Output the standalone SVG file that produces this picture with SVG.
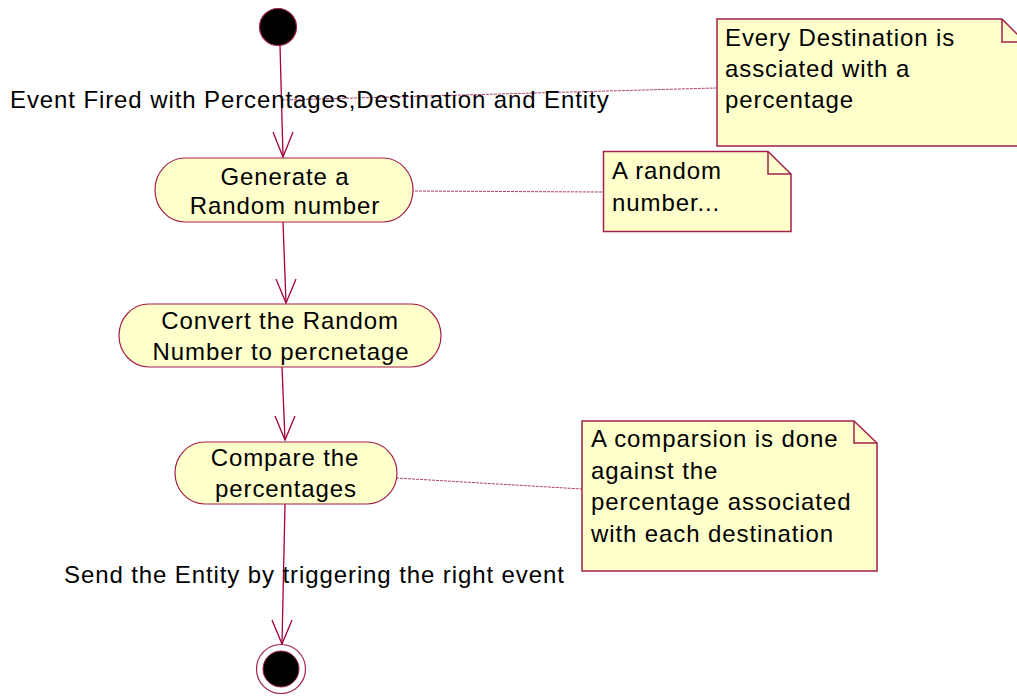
<svg xmlns="http://www.w3.org/2000/svg" width="1017" height="696" viewBox="0 0 1017 696">
<style>
text{font-family:"Liberation Sans",Arial,sans-serif;font-size:24px;letter-spacing:0.9px;fill:#000}
.act{fill:#ffffcc;stroke:#a3204d;stroke-width:1.2}
.note{fill:#ffffcc;stroke:#a3204d;stroke-width:1.5}
.fold{fill:none;stroke:#a3204d;stroke-width:1.5}
.flow{stroke:#a3003a;stroke-width:1.3;fill:none}
.anchor{stroke:#b0406a;stroke-width:1;stroke-dasharray:3 1;fill:none}
.mid{text-anchor:middle}
</style>
<rect width="1017" height="696" fill="#fff"/>
<g id="connectors">
<line class="anchor" x1="282" y1="100" x2="716" y2="88"/>
<line class="anchor" x1="407" y1="191" x2="603" y2="192"/>
<line class="anchor" x1="396" y1="478" x2="582" y2="489"/>
<path class="flow" d="M280,45 L283,157"/>
<path class="flow" d="M283,222 L286,303"/>
<path class="flow" d="M282,367 L285,440"/>
<path class="flow" d="M285,504 L282,644"/>
<path class="flow" d="M273,132 L283,157 L293,132"/>
<path class="flow" d="M276,279 L286,303 L296,279"/>
<path class="flow" d="M275,416 L285,440 L295,416"/>
<path class="flow" d="M272,620 L282,644 L292,620"/>
<text x="10" y="108">Event Fired with Percentages,Destination and Entity</text>
<text x="64" y="583">Send the Entity by triggering the right event</text>
</g>
<g id="start">
<circle cx="278" cy="27" r="18.5" fill="#000" stroke="#a3204d" stroke-width="1.2"/>
</g>
<g id="generate">
<rect class="act" x="155" y="158" width="258" height="64" rx="30" ry="32"/>
<text class="mid" x="285" y="185">Generate a</text>
<text class="mid" x="285" y="214">Random number</text>
</g>
<g id="convert">
<rect class="act" x="119" y="304" width="322" height="63" rx="30" ry="31.5"/>
<text class="mid" x="280" y="329">Convert the Random</text>
<text class="mid" x="281" y="360">Number to percnetage</text>
</g>
<g id="compare">
<rect class="act" x="175" y="442" width="222" height="62" rx="30" ry="31"/>
<text class="mid" x="285" y="466">Compare the</text>
<text class="mid" x="286" y="497">percentages</text>
</g>
<g id="end">
<circle cx="281" cy="669" r="24.5" fill="#fff" stroke="#a3204d" stroke-width="1.2"/>
<circle cx="281" cy="669" r="18" fill="#000" stroke="#a3204d" stroke-width="1"/>
</g>
<g id="note-destination">
<path class="note" d="M717,19 L1002,19 L1025,42 L1025,146 L717,146 Z"/>
<path class="fold" d="M1002,19 L1002,42 L1025,42"/>
<text x="725" y="46">Every Destination is</text>
<text x="725" y="77">assciated with a</text>
<text x="725" y="108">percentage</text>
</g>
<g id="note-random">
<path class="note" d="M603.5,151.5 L768,151.5 L791,174 L791,231.5 L603.5,231.5 Z"/>
<path class="fold" d="M768,151.5 L768,174 L791,174"/>
<text x="612" y="179">A random</text>
<text x="612" y="211">number...</text>
</g>
<g id="note-compare">
<path class="note" d="M582,421 L854,421 L877,443 L877,571 L582,571 Z"/>
<path class="fold" d="M854,421 L854,443 L877,443"/>
<text x="591" y="447">A comparsion is done</text>
<text x="591" y="479">against the</text>
<text x="591" y="510">percentage associated</text>
<text x="591" y="542">with each destination</text>
</g>
</svg>
